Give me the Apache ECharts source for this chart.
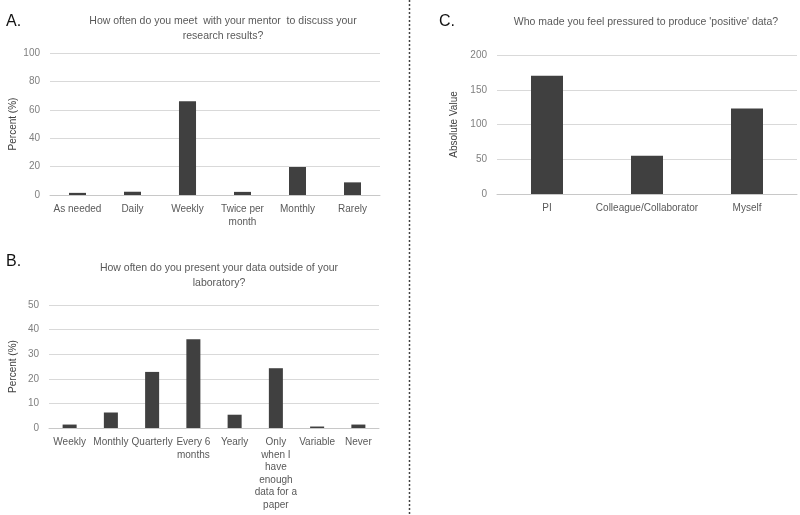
<!DOCTYPE html>
<html>
<head>
<meta charset="utf-8">
<script src="https://cdn.jsdelivr.net/npm/echarts@6/dist/echarts.min.js"></script>
<style>html,body{margin:0;padding:0;background:#fff}#c{width:800px;height:515px}</style>
</head>
<body>
<div id="c"></div>
<script>
// Panel A
const catsA = ['As needed', 'Daily', 'Weekly', 'Twice per\nmonth', 'Monthly', 'Rarely'];
const valsA = [1.5, 2.3, 66, 2.2, 19.7, 8.9];
const titleA = 'How often do you meet  with your mentor  to discuss your\nresearch results?';
// Panel B
const catsB = ['Weekly', 'Monthly', 'Quarterly', 'Every 6\nmonths', 'Yearly', 'Only\nwhen I\nhave\nenough\ndata for a\npaper', 'Variable', 'Never'];
const valsB = [1.4, 6.3, 22.8, 36.1, 5.4, 24.3, 0.6, 1.4];
const titleB = 'How often do you present your data outside of your\nlaboratory?';
// Panel C
const catsC = ['PI', 'Colleague/Collaborator', 'Myself'];
const valsC = [170, 55, 123];
const titleC = "Who made you feel pressured to produce 'positive' data?";

const FONT = 'Liberation Sans';
const barColor = '#404040';
const gridColor = '#d9d9d9';
const tickColor = '#7f7f7f';

function xAxis(gi, data) {
  return {
    type: 'category', gridIndex: gi, data: data,
    axisLine: { lineStyle: { color: '#c8c8c8' } },
    axisTick: { show: false },
    axisLabel: { color: '#595959', fontFamily: FONT, fontSize: 10, lineHeight: 12.5, interval: 0, margin: 8 }
  };
}
function yAxis(gi, max, interval, name, gap) {
  return {
    type: 'value', gridIndex: gi, min: 0, max: max, interval: interval,
    name: name, nameLocation: 'middle', nameGap: gap, nameRotate: 90,
    nameTextStyle: { color: '#404040', fontFamily: FONT, fontSize: 10 },
    axisLine: { show: false }, axisTick: { show: false },
    axisLabel: { color: tickColor, fontFamily: FONT, fontSize: 10, margin: 10 },
    splitLine: { lineStyle: { color: gridColor } }
  };
}
const titleStyle = { color: '#595959', fontFamily: FONT, fontSize: 10.5, fontWeight: 'normal', lineHeight: 15 };

const chart = echarts.init(document.getElementById('c'), null, { renderer: 'canvas' });
chart.setOption({
  animation: false,
  backgroundColor: '#fff',
  title: [
    { text: titleA, left: 218, top: 9, textAlign: 'center', textStyle: Object.assign({ align: 'center' }, titleStyle) },
    { text: titleB, left: 214, top: 256, textAlign: 'center', textStyle: Object.assign({ align: 'center' }, titleStyle) },
    { text: titleC, left: 641, top: 10, textAlign: 'center', textStyle: Object.assign({ align: 'center' }, titleStyle) },
    { text: 'A.', left: 1, top: 9, textStyle: { color: '#111', fontFamily: FONT, fontSize: 16, fontWeight: 'normal' } },
    { text: 'B.', left: 1, top: 249, textStyle: { color: '#111', fontFamily: FONT, fontSize: 16, fontWeight: 'normal' } },
    { text: 'C.', left: 434, top: 9, textStyle: { color: '#111', fontFamily: FONT, fontSize: 16, fontWeight: 'normal' } }
  ],
  grid: [
    { left: 50, top: 53, width: 330, height: 142 },
    { left: 49, top: 305, width: 330, height: 123 },
    { left: 497, top: 55, width: 300, height: 139 }
  ],
  xAxis: [xAxis(0, catsA), xAxis(1, catsB), xAxis(2, catsC)],
  yAxis: [
    yAxis(0, 100, 20, 'Percent (%)', 32),
    yAxis(1, 50, 10, 'Percent (%)', 31),
    yAxis(2, 200, 50, 'Absolute Value', 38)
  ],
  series: [
    { type: 'bar', xAxisIndex: 0, yAxisIndex: 0, data: valsA, barWidth: '31%', itemStyle: { color: barColor } },
    { type: 'bar', xAxisIndex: 1, yAxisIndex: 1, data: valsB, barWidth: '34%', itemStyle: { color: barColor } },
    { type: 'bar', xAxisIndex: 2, yAxisIndex: 2, data: valsC, barWidth: '32%', itemStyle: { color: barColor } }
  ],
  graphic: [
    { type: 'line', shape: { x1: 409.5, y1: 0, x2: 409.5, y2: 515 }, style: { stroke: '#444', lineWidth: 1.5, lineDash: [2, 2] } }
  ]
});
</script>
</body>
</html>
